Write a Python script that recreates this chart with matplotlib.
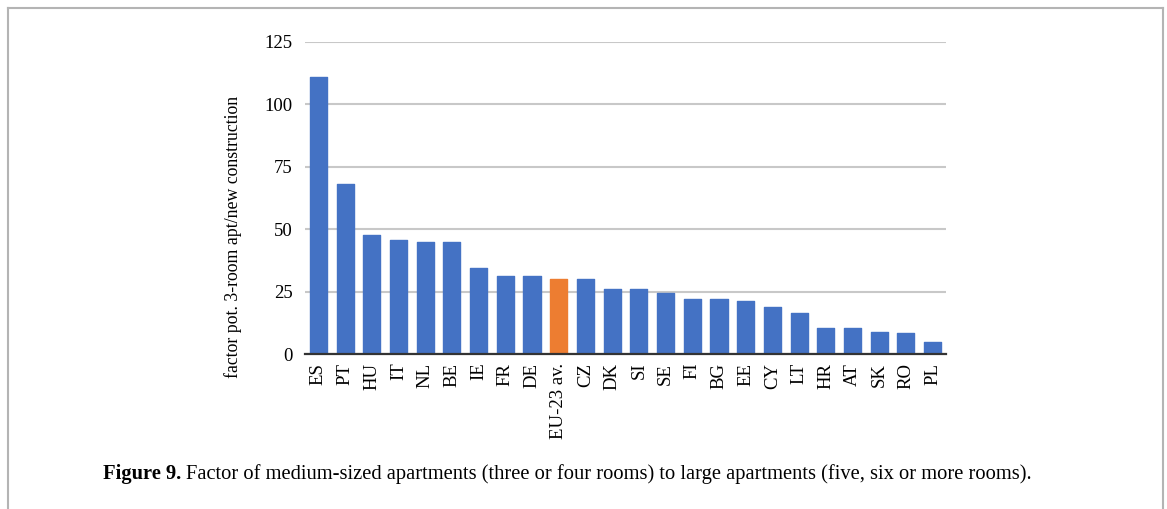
import matplotlib
matplotlib.use("Agg")
import matplotlib.pyplot as plt

countries = ["ES", "PT", "HU", "IT", "NL", "BE", "IE", "FR", "DE", "EU-23 av.",
             "CZ", "DK", "SI", "SE", "FI", "BG", "EE", "CY", "LT", "HR",
             "AT", "SK", "RO", "PL"]
factor = [110.9, 68.3, 47.7, 45.8, 45.1, 45.1, 34.4, 31.5, 31.5, 30.3,
          30.3, 26.2, 26.2, 24.4, 22.0, 22.0, 21.3, 18.9, 16.7, 10.7,
          10.7, 9.1, 8.4, 4.8]
y_ticks = [0, 25, 50, 75, 100, 125]

blue = "#4472C4"
orange = "#ED7D31"
colors = [orange if c == "EU-23 av." else blue for c in countries]

plt.rcParams["font.family"] = ["Liberation Serif", "DejaVu Serif"]

W, H = 1167, 509
fig = plt.figure(figsize=(W / 100, H / 100), dpi=100)
ax = fig.add_axes([305 / W, 1 - 354.3 / H, 641 / W, (354.3 - 42) / H])

ax.bar(range(len(countries)), factor, width=0.64, color=colors,
       edgecolor=colors, linewidth=1.0, joinstyle="round", zorder=3)

ax.set_xlim(-0.5, len(countries) - 0.5)
ax.set_ylim(0, 125)
ax.set_yticks(y_ticks)
ax.set_xticks(range(len(countries)))
ax.set_xticklabels(countries, rotation=90, fontsize=13.5)
ax.tick_params(axis="y", labelsize=13.5, length=0, pad=9)
ax.tick_params(axis="x", length=0, pad=6)
ax.grid(axis="y", color="#c8c8c8", linewidth=1.5, zorder=0)
for side in ["top", "right", "left"]:
    ax.spines[side].set_visible(False)
ax.spines["bottom"].set_color("#333333")
ax.spines["bottom"].set_linewidth(1.6)
ax.spines["bottom"].set_zorder(4)

# y label sits lower than the axes centre, as in the source figure
fig.text(233 / W, 1 - 236.5 / H, "factor pot. 3-room apt/new construction",
         fontsize=12.8, rotation=90, ha="center", va="center")

# frame around the figure panel (open at the bottom)
frame = dict(transform=fig.transFigure, color="#b4b4b4", linewidth=1.5)
fig.add_artist(plt.Line2D([8 / W, 8 / W], [0, 1 - 8 / H], **frame))
fig.add_artist(plt.Line2D([8 / W, 1163 / W], [1 - 8 / H, 1 - 8 / H], **frame))
fig.add_artist(plt.Line2D([1163 / W, 1163 / W], [0, 1 - 8 / H], **frame))

# caption: bold label followed by regular text
cap_y = 1 - 474 / H
t1 = fig.text(103 / W, cap_y, "Figure 9.", fontsize=14.8, fontweight="bold", va="center")
fig.canvas.draw()
bb = t1.get_window_extent()
fig.text(bb.x1 / fig.bbox.width + 5 / W, cap_y,
         "Factor of medium-sized apartments (three or four rooms) to large apartments (five, six or more rooms).",
         fontsize=14.8, va="center")

fig.savefig("out.png", dpi=100)
